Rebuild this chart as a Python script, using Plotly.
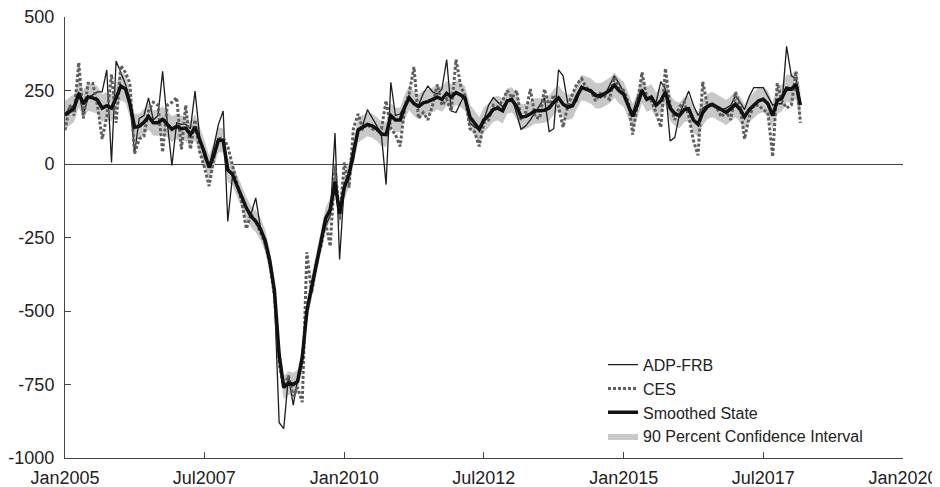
import pandas as pd
import plotly.graph_objects as go

months = pd.date_range("2005-01-01", periods=159, freq="MS")

adp_frb = [
    170, 190, 200, 245, 170, 225, 235, 245, 245, 320,
    5, 350, 310, 270, 220, 35, 155, 165, 225, 150,
    165, 315, 140, -5, 140, 135, 135, 120, 248, 90,
    20, -10, 60, 135, 180, -195, -40, -70, -110, -150,
    -170, -115, -215, -270, -330, -450, -880, -900, -720, -820,
    -740, -640, -500, -420, -335, -265, -210, -175, 105, -325,
    -70, -30, 10, 120, 130, 185, 160, 130, 95, -70,
    278, 165, 170, 200, 230, 210, 200, 240, 265, 245,
    238, 255, 355, 180, 175, 210, 238, 140, 125, 118,
    150, 200, 226, 210, 195, 215, 225, 170, 118, 130,
    150, 175, 200, 225, 110, 120, 320, 300, 205, 200,
    215, 265, 255, 245, 240, 225, 235, 265, 300, 275,
    245, 200, 175, 225, 255, 225, 220, 210, 280, 255,
    78, 90, 170, 210, 248, 200, 165, 190, 200, 205,
    195, 185, 190, 200, 232, 210, 185, 230, 260, 260,
    260, 230, 200, 205, 205, 400, 300, 290, 210,
]

ces = [
    115, 200, 165, 345, 155, 275, 275, 200, 85, 160,
    305, 140, 335, 310, 275, 35, 85, 95, 180, 210,
    200, 40, 200, 210, 226, 50, 200, 50, 150, 40,
    -10, -75, 20, 85, 90, 60, -5, -70, -130, -220,
    -170, -195, -230, -270, -340, -450, -680, -760, -720, -790,
    -760, -810, -300, -440, -340, -280, -200, -280, -5, -190,
    5, -80, 120, 170, 120, 135, 120, 115, 120, 215,
    120, 100, 60, 200, 240, 330, 155, 175, 150, 200,
    270, 200, 220, 180, 355, 265, 230, 120, 110, 60,
    140, 150, 200, 195, 215, 250, 225, 250, 150, 175,
    255, 160, 155, 255, 195, 235, 195, 125, 200, 240,
    272, 290, 260, 250, 215, 240, 230, 220, 295, 260,
    250, 210, 100, 205, 312, 225, 215, 175, 125, 325,
    200, 150, 195, 210, 165, 80, 30, 280, 200, 200,
    190, 160, 180, 150, 245, 195, 85, 160, 200, 200,
    185, 175, 25, 275, 215, 190, 200, 315, 140,
]

smoothed = [
    166, 180, 190, 240, 205, 228, 225, 218, 190, 198,
    190, 225, 265, 255, 205, 125, 128, 142, 162, 140,
    140, 152, 135, 118, 128, 120, 122, 100, 125, 85,
    40, -12, 30, 82, 80, -20, -35, -75, -112, -150,
    -178, -195, -220, -260, -330, -430, -650, -760, -745, -750,
    -740, -660, -500, -420, -340, -265, -185, -155, -60, -170,
    -80, -35, 35, 115, 125, 135, 130, 120, 102, 100,
    165, 150, 150, 195, 225, 205, 195, 208, 212, 218,
    227, 220, 240, 228, 243, 235, 222, 160, 140, 118,
    150, 165, 186, 190, 181, 215, 218, 195, 160, 162,
    170, 181, 181, 183, 190, 210, 225, 203, 193, 198,
    230, 260, 255, 248, 233, 232, 240, 250, 268, 250,
    237, 195, 162, 200, 250, 220, 228, 200, 215, 245,
    190, 172, 165, 185, 188, 150, 135, 175, 195, 203,
    195, 185, 175, 190, 203, 185, 160, 185, 200, 215,
    220, 205, 165, 215, 225, 258, 255, 270, 200,
]

ci_half = [
    48, 48, 47, 48, 47, 48, 48, 47, 46, 47,
    46, 47, 48, 47, 46, 45, 44, 45, 45, 44,
    44, 45, 44, 44, 43, 44, 44, 43, 44, 43,
    42, 42, 42, 42, 41, 40, 39, 38, 38, 38,
    37, 37, 38, 38, 38, 39, 40, 40, 40, 40,
    40, 40, 40, 39, 39, 38, 38, 39, 42, 43,
    43, 42, 42, 42, 42, 41, 41, 41, 41, 42,
    42, 42, 42, 42, 42, 42, 42, 42, 42, 42,
    42, 42, 42, 42, 42, 42, 42, 42, 42, 42,
    42, 42, 42, 42, 43, 43, 43, 43, 43, 43,
    43, 43, 43, 43, 43, 43, 43, 43, 43, 43,
    43, 43, 43, 43, 43, 43, 43, 43, 43, 43,
    43, 43, 43, 43, 43, 43, 43, 43, 43, 43,
    43, 43, 43, 43, 43, 43, 43, 43, 43, 43,
    43, 43, 43, 43, 43, 43, 43, 43, 43, 44,
    44, 44, 45, 45, 46, 47, 48, 50, 55,
]

ci_lower = [s - h for s, h in zip(smoothed, ci_half)]
ci_upper = [s + h for s, h in zip(smoothed, ci_half)]

x_tick_vals = ["2005-01-01", "2007-07-01", "2010-01-01", "2012-07-01",
               "2015-01-01", "2017-07-01", "2020-01-01"]
x_tick_text = ["Jan2005", "Jul2007", "Jan2010", "Jul2012", "Jan2015", "Jul2017", "Jan2020"]
y_tick_vals = [-1000, -750, -500, -250, 0, 250, 500]
y_tick_text = ["-1000", "-750", "-500", "-250", "0", "250", "500"]

fig = go.Figure()
fig.add_trace(go.Scatter(x=months, y=ci_upper, mode="lines", line=dict(width=0),
                         showlegend=False, hoverinfo="skip"))
fig.add_trace(go.Scatter(x=months, y=ci_lower, mode="lines", line=dict(width=0),
                         fill="tonexty", fillcolor="rgb(200,200,200)",
                         name="90 Percent Confidence Interval", legendrank=4))
fig.add_trace(go.Scatter(x=months, y=adp_frb, mode="lines",
                         line=dict(color="#1c1c1c", width=1.3),
                         name="ADP-FRB", legendrank=1))
fig.add_trace(go.Scatter(x=months, y=ces, mode="lines",
                         line=dict(color="#5e5e5e", width=3, dash="3px,2px"),
                         name="CES", legendrank=2))
fig.add_trace(go.Scatter(x=months, y=smoothed, mode="lines",
                         line=dict(color="#111111", width=3.5),
                         name="Smoothed State", legendrank=3))

# the page body adds an 8px margin, so the figure is sized to fit the window
fig.update_layout(
    width=932, height=479,
    margin=dict(l=57, r=37, t=9, b=29),
    paper_bgcolor="white", plot_bgcolor="white",
    font=dict(family="Liberation Sans, Arial, sans-serif", size=18, color="#222222"),
    legend=dict(x=0.642, y=0.25, xanchor="left", yanchor="top", traceorder="normal",
                bgcolor="rgba(0,0,0,0)", font=dict(size=16), tracegroupgap=0),
)
fig.update_xaxes(type="date", range=["2005-01-01", "2020-01-01"],
                 tickvals=x_tick_vals, ticktext=x_tick_text,
                 ticks="inside", ticklen=6, tickcolor="#444444",
                 showline=True, linecolor="#444444", linewidth=1,
                 showgrid=False, zeroline=False, automargin=False,
                 ticklabelstandoff=3, ticklabeloverflow="allow")
fig.update_yaxes(range=[-1000, 500], tickvals=y_tick_vals, ticktext=y_tick_text,
                 ticks="inside", ticklen=6, tickcolor="#444444",
                 showline=True, linecolor="#444444", linewidth=1,
                 showgrid=False, zeroline=True, zerolinecolor="#444444", zerolinewidth=1,
                 ticklabelstandoff=6, automargin=False, ticklabeloverflow="allow")

fig.write_html("out.html")
